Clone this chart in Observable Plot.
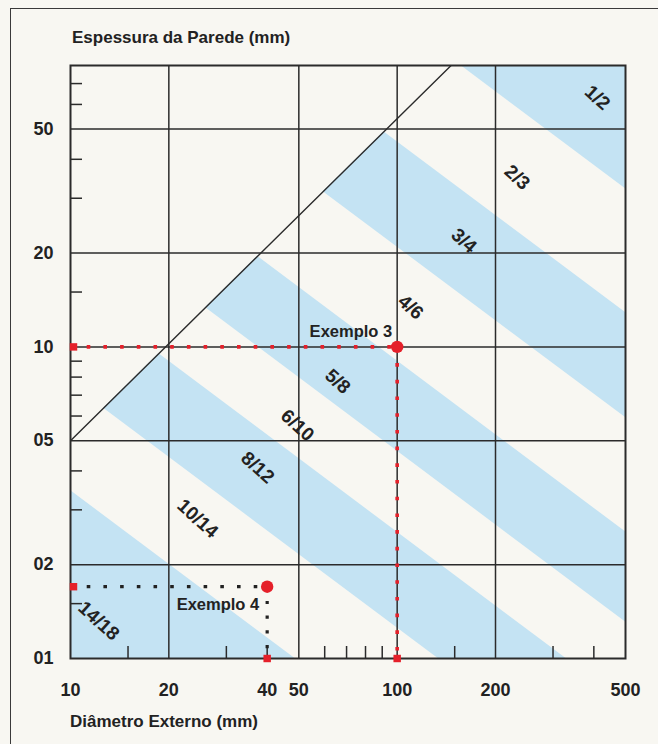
<!DOCTYPE html>
<html>
<head>
<meta charset="utf-8">
<script src="https://cdn.jsdelivr.net/npm/d3@7"></script>
<script src="https://cdn.jsdelivr.net/npm/@observablehq/plot@0.6"></script>
<style>
  body { margin: 0; background: #f8f7f2; font-family: "Liberation Sans", Arial, Helvetica, sans-serif; }
  #wrap { position: relative; width: 658px; height: 744px; overflow: hidden; background: #f8f7f2; }
  #border { position: absolute; left: 10px; top: 8px; width: 760px; height: 800px; border-left: 1.5px solid #3a3a3a; border-top: 1.5px solid #3a3a3a; }
  #chart { position: absolute; left: 0; top: 0; }
  .t { position: absolute; font-weight: bold; font-size: 17px; color: #222; white-space: nowrap; line-height: 20px; z-index: 2; }
  #chart svg text { font-family: "Liberation Sans", Arial, Helvetica, sans-serif; }
</style>
</head>
<body>
<div id="wrap">
  <div id="border"></div>
  <div id="chart"></div>
  <div class="t" style="left:72px; top:28px;">Espessura da Parede (mm)</div>
  <div class="t" style="left:70px; top:712px;">Diâmetro Externo (mm)</div>
</div>
<script>
// ---- data ----
const xTicks = [10, 20, 40, 50, 100, 200, 500];          // labelled diameters (mm)
const yTicks = [1, 2, 5, 10, 20, 50];                     // labelled wall thicknesses (mm)
const xGrid = [20, 50, 100, 200];
const yGrid = [2, 5, 10, 20, 50];
const xMinor = [15, 30, 40, 60, 70, 80, 90, 150, 300, 400];
const yMinor = [1.5, 3, 4, 6, 7, 8, 9, 15, 30, 40, 60, 70];

// stripes, from the top-right one down to the bottom-left one
const bandNames = ["1/2", "2/3", "3/4", "4/6", "5/8", "6/10", "8/12", "10/14", "14/18"];
// stripe edges: wall thickness where each edge meets D = 10 mm and D = 500 mm
const edgeAt10  = [5000, 692, 277, 127, 55, 28.2, 15.5, 7.63, 3.46, 0.05];
const edgeAt500 = [2000, 32.2, 12.9, 5.93, 2.55, 1.31, 0.72, 0.355, 0.161, 0.005];
// label positions (D mm, s mm)
const bandLabelX = [410, 233, 160, 110, 65.7, 49.5, 37.4, 24.5, 12.2];
const bandLabelY = [63, 35, 21.9, 13.4, 7.74, 5.6, 4.1, 2.81, 1.32];

// limit line (upper bound of wall thickness)
const limitX = [10, 500];
const limitY = [5, 285];

// worked examples
const exampleNames = ["Exemplo 3", "Exemplo 4"];
const exampleX = [100, 40];
const exampleY = [10, 1.7];

// ---- derived tables ----
const bandRows = bandNames.flatMap((name, i) => i % 2 === 0 ? [
  {band: name, x: 10,  hi: edgeAt10[i],  lo: edgeAt10[i + 1]},
  {band: name, x: 500, hi: edgeAt500[i], lo: edgeAt500[i + 1]}
] : []);
const labelRows = bandNames.map((name, i) => ({text: name, x: bandLabelX[i], y: bandLabelY[i]}));
const limitRows = limitX.map((x, i) => ({x, y: limitY[i]}));
const coverRows = limitX.map((x, i) => ({x, y1: limitY[i], y2: 1e5}));
const examples = exampleNames.map((name, i) => ({name, x: exampleX[i], y: exampleY[i]}));
const xMin = xTicks[0], yMin = yTicks[0];

const INK = "#2b2b2b";
const RED = "#e5202a";
const BLUE = "#c4e3f3";
const BG = "#f8f7f2";
const dots = "3.6,13.1";

const chart = Plot.plot({
  width: 658,
  height: 744,
  marginLeft: 70,
  marginRight: 33,
  marginTop: 65,
  marginBottom: 86,
  style: {background: "transparent", color: INK, fontFamily: "Liberation Sans, Arial, sans-serif"},
  x: {type: "log", domain: [10, 500], axis: null, label: null},
  y: {type: "log", domain: [1, 80], axis: null, label: null},
  marks: [
    Plot.areaY(bandRows, {x: "x", y1: "lo", y2: "hi", z: "band", fill: BLUE, clip: true}),
    Plot.areaY(coverRows, {x: "x", y1: "y1", y2: "y2", fill: BG, clip: true}),
    Plot.ruleX(xGrid, {stroke: INK, strokeWidth: 1.5}),
    Plot.ruleY(yGrid, {stroke: INK, strokeWidth: 1.5}),
    Plot.line(limitRows, {x: "x", y: "y", stroke: INK, strokeWidth: 1.4, clip: true}),
    Plot.frame({stroke: INK, strokeWidth: 2}),
    Plot.axisY(yMinor, {anchor: "left", tickSize: 12, dx: 12, tickFormat: () => "", stroke: INK, strokeWidth: 1.5, label: null}),
    Plot.axisX(xMinor, {anchor: "bottom", tickSize: 12, dy: -12, tickFormat: () => "", stroke: INK, strokeWidth: 1.5, label: null}),
    Plot.axisY(yTicks, {anchor: "left", tickSize: 0, tickPadding: 17, tickFormat: d => String(d).padStart(2, "0"),
      fontSize: 18, fontWeight: "bold", color: "#222", label: null}),
    Plot.text(xTicks, {x: d => d, frameAnchor: "bottom", lineAnchor: "top", dy: 25, text: d => String(d),
      fontSize: 18, fontWeight: "bold", fill: "#222"}),
    // band labels
    Plot.text(labelRows, {x: "x", y: "y", text: "text", rotate: 42, fontSize: 19, fontWeight: "bold", fill: "#222"}),
    // example 3 (red dotted)
    Plot.ruleY([examples[0]], {y: "y", x1: xMin, x2: "x", stroke: RED, strokeWidth: 3.6, strokeDasharray: dots}),
    Plot.ruleX([examples[0]], {x: "x", y1: "y", y2: yMin, stroke: RED, strokeWidth: 3.6, strokeDasharray: dots}),
    // example 4 (black dotted)
    Plot.ruleY([examples[1]], {y: "y", x1: xMin, x2: "x", stroke: "#222", strokeWidth: 3.2, strokeDasharray: dots}),
    Plot.ruleX([examples[1]], {x: "x", y1: "y", y2: yMin, stroke: "#222", strokeWidth: 3.2, strokeDasharray: "3.2,11.5"}),
    // markers
    Plot.dot(examples, {x: xMin, y: "y", symbol: "square", r: 4.2, fill: RED, dx: 3}),
    Plot.dot(examples, {x: "x", y: yMin, symbol: "square", r: 4.2, fill: RED}),
    Plot.dot(examples, {x: "x", y: "y", r: 6.2, fill: RED}),
    Plot.text([examples[0]], {x: "x", y: "y", text: "name", textAnchor: "end", dx: -5, dy: -15, fontSize: 16.5, fontWeight: "bold", fill: "#222"}),
    Plot.text([examples[1]], {x: "x", y: "y", text: "name", textAnchor: "end", dx: -8, dy: 18, fontSize: 16.5, fontWeight: "bold", fill: "#222"})
  ]
});
document.getElementById("chart").appendChild(chart);
</script>
</body>
</html>
